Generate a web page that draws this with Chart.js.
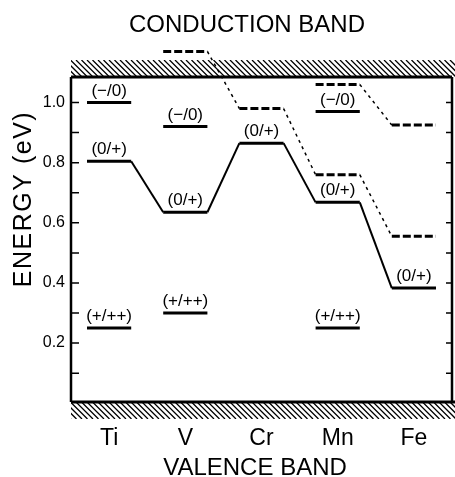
<!DOCTYPE html>
<html>
<head>
<meta charset="utf-8">
<script src="https://cdn.jsdelivr.net/npm/chart.js@4.4.0/dist/chart.umd.min.js"></script>
<style>
  body { margin: 0; background: #fff; }
</style>
</head>
<body>
<canvas id="levelChart" width="455" height="477"></canvas>
<script>
const elements = ['Ti', 'V', 'Cr', 'Mn', 'Fe'];

// (0/+) levels, joined by solid lines
const donorLevels = [0.805, 0.635, 0.865, 0.668, 0.383];
// (-/0) levels
const acceptorLevels = [1.00, 0.92, null, 0.97, null];
// (+/++) levels
const doubleDonorLevels = [0.25, 0.30, null, 0.25, null];
// dashed levels
const dashedLower = [null, 1.17, 0.98, 0.76, 0.555];
const dashedUpper = [null, null, null, 1.06, 0.925];

const yTickValues = [0.1, 0.2, 0.3, 0.4, 0.5, 0.6, 0.7, 0.8, 0.9, 1.0];
const yTickLabels = ['', '0.2', '', '0.4', '', '0.6', '', '0.8', '', '1.0'];

const HALF = 0.29;
const FONT = '"Liberation Sans", Arial, sans-serif';

function levelPoints(values, joined) {
    const pts = [];
    values.forEach((v, i) => {
        if (v === null) return;
        if (!joined && pts.length) pts.push({ x: i - 0.5, y: null });
        pts.push({ x: i - HALF, y: v }, { x: i + HALF, y: v });
    });
    return pts;
}

const flat = ctx => ctx.p0.parsed.y === ctx.p1.parsed.y;

function solidSet(values, joined) {
    return {
        data: levelPoints(values, joined),
        borderColor: '#000',
        borderWidth: 3,
        pointRadius: 0,
        spanGaps: false,
        clip: false,
        segment: {
            borderWidth: ctx => flat(ctx) ? 3 : 2
        }
    };
}

function dashedSet(values) {
    return {
        data: levelPoints(values, true),
        borderColor: '#000',
        borderWidth: 3,
        pointRadius: 0,
        clip: false,
        segment: {
            borderWidth: ctx => flat(ctx) ? 3 : 1.5,
            borderDash: ctx => flat(ctx) ? [8, 3] : [3, 4]
        }
    };
}

function hatch(ctx, x0, y0, x1, y1) {
    ctx.save();
    ctx.beginPath();
    ctx.rect(x0, y0, x1 - x0, y1 - y0);
    ctx.clip();
    const h = y1 - y0;
    ctx.lineWidth = 1.3;
    ctx.beginPath();
    for (let x = x0 - h; x < x1 + h; x += 5.5) {
        ctx.moveTo(x, y0);
        ctx.lineTo(x + h, y1);
    }
    ctx.stroke();
    ctx.restore();
}

const decor = {
    id: 'decor',
    afterDatasetsDraw(chart) {
        const { ctx, chartArea: a, scales: { x, y } } = chart;
        ctx.save();
        ctx.strokeStyle = '#000';
        ctx.fillStyle = '#000';

        hatch(ctx, a.left, a.top - 17, chart.width, a.top);
        hatch(ctx, a.left, a.bottom, chart.width, a.bottom + 17);

        // frame
        ctx.lineWidth = 3;
        ctx.beginPath();
        ctx.moveTo(a.left, a.top); ctx.lineTo(a.right, a.top);
        ctx.moveTo(a.left, a.bottom); ctx.lineTo(chart.width, a.bottom);
        ctx.stroke();
        ctx.lineWidth = 2.5;
        ctx.beginPath();
        ctx.moveTo(a.left, a.top); ctx.lineTo(a.left, a.bottom);
        ctx.moveTo(a.right, a.top); ctx.lineTo(a.right, a.bottom);
        ctx.stroke();

        // inward ticks on both sides
        ctx.lineWidth = 1.5;
        ctx.beginPath();
        y.ticks.forEach(t => {
            const py = y.getPixelForValue(t.value);
            ctx.moveTo(a.left, py); ctx.lineTo(a.left + 8, py);
            ctx.moveTo(a.right, py); ctx.lineTo(a.right - 6, py);
        });
        ctx.stroke();

        // level labels
        ctx.font = '17px ' + FONT;
        ctx.textAlign = 'center';
        ctx.textBaseline = 'alphabetic';
        const label = (values, text) => values.forEach((v, i) => {
            if (v === null) return;
            ctx.fillText(text, x.getPixelForValue(i), y.getPixelForValue(v) - 7);
        });
        label(donorLevels, '(0/+)');
        label(acceptorLevels, '(\u2212/0)');
        label(doubleDonorLevels, '(+/++)');

        // band names and axis title
        ctx.font = '24px ' + FONT;
        ctx.textBaseline = 'middle';
        ctx.fillText('CONDUCTION BAND', 247, 25);
        ctx.fillText('VALENCE BAND', 255, 468);

        ctx.translate(24, 199);
        ctx.rotate(-Math.PI / 2);
        ctx.font = '25px ' + FONT;
        ctx.letterSpacing = '1.5px';
        ctx.fillText('ENERGY (eV)', 0, 0);
        ctx.restore();
    }
};

new Chart(document.getElementById('levelChart'), {
    type: 'line',
    data: {
        datasets: [
            solidSet(donorLevels, true),
            solidSet(acceptorLevels, false),
            solidSet(doubleDonorLevels, false),
            dashedSet(dashedLower),
            dashedSet(dashedUpper)
        ]
    },
    options: {
        responsive: false,
        animation: false,
        layout: { padding: { top: 77, right: 3 } },
        plugins: {
            legend: { display: false },
            tooltip: { enabled: false }
        },
        scales: {
            x: {
                type: 'linear',
                min: -0.5,
                max: 4.5,
                grid: { display: false },
                border: { display: false },
                afterFit: s => { s.height = 75; },
                afterBuildTicks: s => { s.ticks = elements.map((e, i) => ({ value: i })); },
                ticks: {
                    color: '#000',
                    padding: 15,
                    font: { family: FONT, size: 23 },
                    callback: v => elements[v]
                }
            },
            y: {
                min: 0.004,
                max: 1.085,
                grid: { display: false, drawTicks: false },
                border: { display: false },
                afterFit: s => { s.width = 71; },
                afterBuildTicks: s => { s.ticks = yTickValues.map(v => ({ value: v })); },
                ticks: {
                    color: '#000',
                    padding: 6,
                    font: { family: FONT, size: 16 },
                    callback: (v, i) => yTickLabels[i]
                }
            }
        }
    },
    plugins: [decor]
});
</script>
</body>
</html>
